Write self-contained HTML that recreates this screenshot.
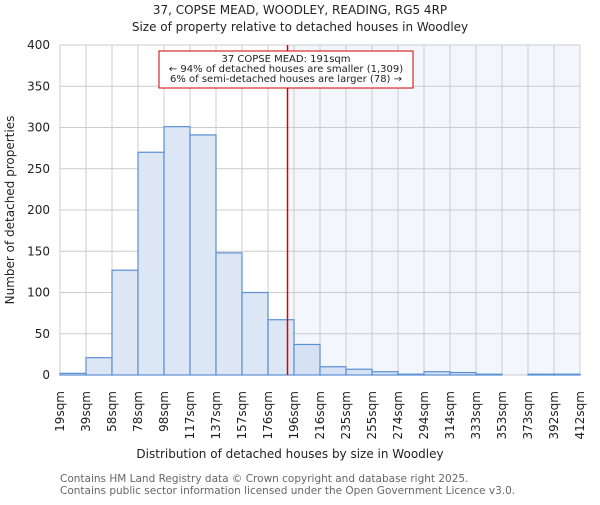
<!DOCTYPE html>
<html><head><meta charset="utf-8"><style>
body{margin:0;background:#fff;}
svg{font-family:"DejaVu Sans","Liberation Sans",sans-serif;}
</style></head><body>
<svg id="chart" width="600" height="500">
<text x="300" y="14" text-anchor="middle" font-size="12" fill="#222">37, COPSE MEAD, WOODLEY, READING, RG5 4RP</text>
<text x="300" y="31" text-anchor="middle" font-size="12" fill="#222">Size of property relative to detached houses in Woodley</text>
<g id="plot"></g>
<text x="290" y="458" text-anchor="middle" font-size="12" fill="#222">Distribution of detached houses by size in Woodley</text>
<text x="14" y="210" text-anchor="middle" font-size="12" fill="#222" transform="rotate(-90 14 210)">Number of detached properties</text>
<text x="60" y="482" font-size="10.5" fill="#666">Contains HM Land Registry data © Crown copyright and database right 2025.</text>
<text x="60" y="494" font-size="10.5" fill="#666">Contains public sector information licensed under the Open Government Licence v3.0.</text>
</svg>
<script>
const binLabels=["19sqm","39sqm","58sqm","78sqm","98sqm","117sqm","137sqm","157sqm","176sqm","196sqm","216sqm","235sqm","255sqm","274sqm","294sqm","314sqm","333sqm","353sqm","373sqm","392sqm","412sqm"];
const binEdges=[19,39,58,78,98,117,137,157,176,196,216,235,255,274,294,314,333,353,373,392,412];
const counts=[2,21,127,270,301,291,148,100,67,37,10,7,4,1,4,3,1,0,1,1];
const yTicks=[0,50,100,150,200,250,300,350,400];
const propertySize=191;
const ns="http://www.w3.org/2000/svg";
const X0=60,X1=580,Y0=375,Y1=45,YMAX=400;
const nb=counts.length;
const xi=i=>X0+(X1-X0)*i/nb;
function xv(v){for(let i=0;i<nb;i++){if(v<=binEdges[i+1])return xi(i)+(v-binEdges[i])/(binEdges[i+1]-binEdges[i])*(xi(i+1)-xi(i));}return X1;}
const y=v=>Y0-(Y0-Y1)*v/YMAX;
const g=document.getElementById('plot');
function mk(t,a){const e=document.createElementNS(ns,t);for(const k in a)e.setAttribute(k,a[k]);g.appendChild(e);return e;}
const px=xv(propertySize);
let e=mk('rect',{x:px,y:Y1,width:X1-px,height:Y0-Y1,fill:'#f3f6fd'});


yTicks.forEach(t=>{let l=mk('line',{x1:X0,x2:X1,y1:y(t),y2:y(t),stroke:'#cccccc','stroke-width':1});


let tx=mk('text',{x:X0-10,y:y(t)+4,'text-anchor':'end','font-size':12,fill:'#222'});tx.textContent=t;

});
binLabels.forEach((lb,i)=>{let l=mk('line',{x1:xi(i),x2:xi(i),y1:Y1,y2:Y0,stroke:'#cccccc','stroke-width':1});


let tx=mk('text',{x:0,y:0,'text-anchor':'end','font-size':12,fill:'#222',transform:`translate(${xi(i)+4},${Y0+16}) rotate(-90)`});tx.textContent=lb;

});
counts.forEach((c,i)=>{let r=mk('rect',{x:xi(i),y:y(c),width:xi(i+1)-xi(i),height:Y0-y(c),fill:xi(i)>=px?'#d6e2f3':'#dce6f4',stroke:'#5a8fd5','stroke-width':1.2});

});
e=mk('line',{x1:px,x2:px,y1:Y1,y2:Y0,stroke:'#dd0000','stroke-width':1.5});


e=mk('rect',{x:159,y:51,width:254,height:37,fill:'#fff',stroke:'#cc0000','stroke-width':1});


["37 COPSE MEAD: 191sqm","← 94% of detached houses are smaller (1,309)","6% of semi-detached houses are larger (78) →"].forEach((s,k)=>{let t=mk('text',{x:286,y:62+k*10,'text-anchor':'middle','font-size':10,fill:'#222'});t.textContent=s;

});
</script>
</body></html>
